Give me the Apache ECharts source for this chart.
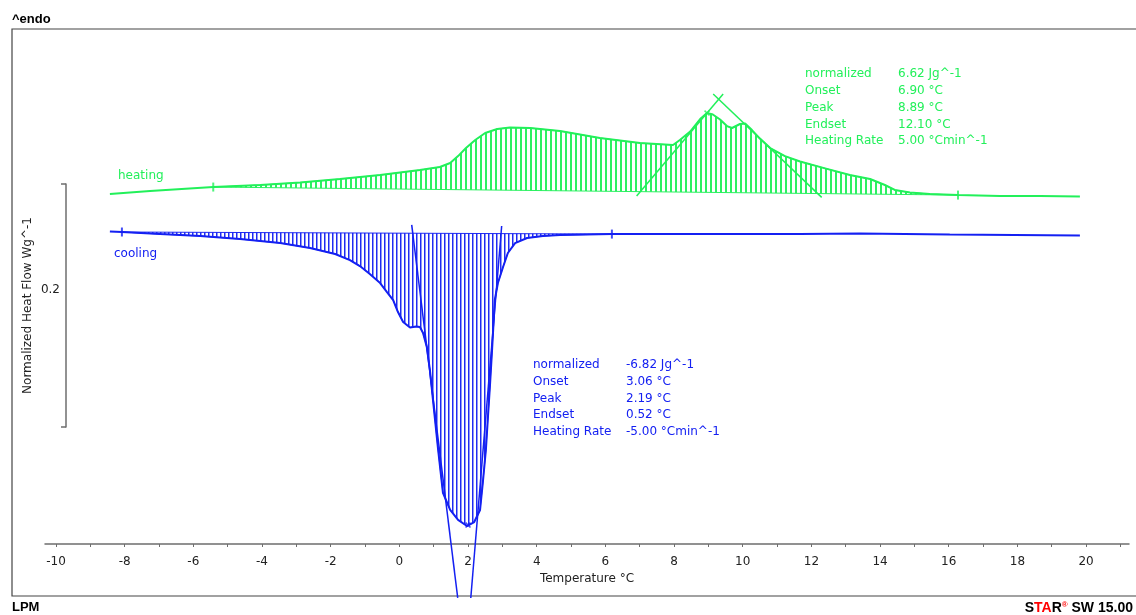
<!DOCTYPE html>
<html>
<head>
<meta charset="utf-8">
<title>DSC heating / cooling</title>
<script src="https://cdn.jsdelivr.net/npm/echarts@6/dist/echarts.min.js"></script>
<style>
  html, body { margin: 0; padding: 0; background: #fff; }
  #dsc-chart { width: 1136px; height: 615px; }
</style>
</head>
<body>
<div id="dsc-chart"></div>
<script>
// heating run (°C, W/g)
const heatT = [-8.43, -7.26, -5.42, -4.05, -2.89, -1.73, -0.56, 0.60, 1.18, 1.48, 1.71, 1.94, 2.21, 2.50, 2.85, 3.22, 3.81, 4.68, 5.84, 7.01, 7.97, 8.17, 8.47, 8.76, 8.96, 9.13, 9.34, 9.54, 9.69, 9.92, 10.07, 10.27, 10.50, 10.80, 11.23, 11.67, 12.40, 13.12, 13.71, 14.14, 14.43, 14.87, 15.45, 16.27, 17.49, 18.66, 19.82];
const heatHF = [0.2881, 0.2905, 0.2938, 0.2955, 0.2975, 0.3004, 0.3037, 0.3078, 0.3103, 0.3136, 0.3193, 0.3259, 0.3325, 0.3383, 0.3416, 0.3428, 0.3424, 0.3399, 0.3342, 0.3300, 0.3284, 0.3325, 0.3395, 0.3498, 0.3547, 0.3535, 0.3494, 0.3440, 0.3424, 0.3457, 0.3461, 0.3407, 0.3337, 0.3259, 0.3193, 0.3148, 0.3092, 0.3037, 0.3004, 0.2955, 0.2914, 0.2893, 0.2881, 0.2872, 0.2864, 0.2864, 0.2860];
const heatLimits = [-5.42, 16.27];
const heatTangents = [[[6.91, 0.2864], [9.43, 0.3704]], [[9.14, 0.3704], [12.30, 0.2853]]];
const heatPeak = [8.96, 0.3547];

// cooling run
const coolT = [-8.43, -8.08, -6.97, -5.80, -4.64, -3.47, -2.60, -1.87, -1.44, -1.15, -0.86, -0.56, -0.36, -0.18, -0.04, 0.11, 0.31, 0.49, 0.60, 0.69, 0.80, 0.89, 0.98, 1.13, 1.27, 1.48, 1.71, 1.97, 2.18, 2.35, 2.43, 2.52, 2.58, 2.64, 2.70, 2.78, 2.87, 3.02, 3.16, 3.37, 3.72, 4.18, 4.68, 6.19, 8.75, 11.67, 13.41, 16.03, 19.82];
const coolHF = [0.2572, 0.2568, 0.2551, 0.2535, 0.2510, 0.2477, 0.2436, 0.2387, 0.2337, 0.2288, 0.2222, 0.2148, 0.2074, 0.2008, 0.1909, 0.1827, 0.1782, 0.1790, 0.1786, 0.1737, 0.1621, 0.1432, 0.1185, 0.0774, 0.0420, 0.0280, 0.0198, 0.0148, 0.0181, 0.0280, 0.0502, 0.0774, 0.1045, 0.1309, 0.1597, 0.2008, 0.2148, 0.2280, 0.2395, 0.2477, 0.2519, 0.2535, 0.2543, 0.2551, 0.2551, 0.2551, 0.2556, 0.2547, 0.2539];
const coolLimits = [-8.08, 6.19];
const coolTangents = [[[0.36, 0.2626], [1.70, -0.0444]], [[2.98, 0.2617], [2.08, -0.0444]]];
const coolPeak = [2.0, 0.0156];

// axis ticks
const tickValues = [-10, -9, -8, -7, -6, -5, -4, -3, -2, -1, 0, 1, 2, 3, 4, 5, 6, 7, 8, 9, 10, 11, 12, 13, 14, 15, 16, 17, 18, 19, 20, 21];
const labelValues = [-10, -8, -6, -4, -2, 0, 2, 4, 6, 8, 10, 12, 14, 16, 18, 20];
const scaleBar = 0.2;

// evaluation results
const heatInfoLabels = ['normalized', 'Onset', 'Peak', 'Endset', 'Heating Rate'];
const heatInfoValues = ['6.62 Jg^-1', '6.90 °C', '8.89 °C', '12.10 °C', '5.00 °Cmin^-1'];
const coolInfoLabels = ['normalized', 'Onset', 'Peak', 'Endset', 'Heating Rate'];
const coolInfoValues = ['-6.82 Jg^-1', '3.06 °C', '2.19 °C', '0.52 °C', '-5.00 °Cmin^-1'];

const GREEN = '#22f05a';
const BLUE = '#1420f2';
const FONT = '"DejaVu Sans", Verdana, sans-serif';

document.addEventListener('DOMContentLoaded', function() {
    const chart = echarts.init(document.getElementById('dsc-chart'));

    const pairs = (xs, ys) => xs.map((x, i) => [x, ys[i]]);
    const heat = pairs(heatT, heatHF);
    const cool = pairs(coolT, coolHF);
    const segment = (pts, lim) => pts.filter(p => p[0] >= lim[0] && p[0] <= lim[1]);
    const limitPoints = (pts, lim) => pts.filter(p => lim.indexOf(p[0]) >= 0);

    // vertical hatching used for the integrated area
    function hatchFill(color, step, width) {
        const c = document.createElement('canvas');
        c.width = step;
        c.height = 2;
        const ctx = c.getContext('2d');
        ctx.fillStyle = color;
        ctx.fillRect(0, 0, width, 2);
        return { image: c, repeat: 'repeat' };
    }

    function hatchSeries(seg, color, fill) {
        return {
            type: 'custom',
            silent: true,
            data: [[0, 0]],
            renderItem: function(params, api) {
                return {
                    type: 'polygon',
                    shape: { points: seg.map(p => api.coord(p)) },
                    style: { fill: fill, stroke: color, lineWidth: 1, opacity: 0.95 }
                };
            },
            z: 2
        };
    }

    function lineSeries(data, color, width) {
        return {
            type: 'line',
            data: data,
            showSymbol: false,
            clip: false,
            silent: true,
            lineStyle: { color: color, width: width },
            z: 3
        };
    }

    function markSeries(data, color, symbol, size) {
        return {
            type: 'scatter',
            data: data,
            symbol: symbol,
            symbolSize: size,
            clip: false,
            silent: true,
            itemStyle: { color: color },
            z: 4
        };
    }

    const crossPath = 'path://M0 0.18L0.18 0L0.5 0.32L0.82 0L1 0.18L0.68 0.5L1 0.82L0.82 1L0.5 0.68L0.18 1L0 0.82L0.32 0.5Z';

    const series = [
        hatchSeries(segment(heat, heatLimits), GREEN, hatchFill(GREEN, 5, 2)),
        hatchSeries(segment(cool, coolLimits), BLUE, hatchFill(BLUE, 4, 1.5)),
        lineSeries(heat, GREEN, 2),
        lineSeries(cool, BLUE, 2),
        markSeries(limitPoints(heat, heatLimits), GREEN, 'rect', [2, 9]),
        markSeries(limitPoints(cool, coolLimits), BLUE, 'rect', [2, 9]),
        markSeries([heatPeak], GREEN, crossPath, 6),
        markSeries([coolPeak], BLUE, crossPath, 6)
    ];
    heatTangents.forEach(t => series.push(lineSeries(t, GREEN, 1.5)));
    coolTangents.forEach(t => series.push(lineSeries(t, BLUE, 1.5)));

    function infoText(x, y, lines, color) {
        return {
            type: 'text', x: x, y: y, silent: true,
            style: { text: lines.join('\n'), fill: color, font: '12px ' + FONT, lineHeight: 16.7 }
        };
    }

    const option = {
        backgroundColor: '#fff',
        animation: false,
        grid: [
            // plot area ends at the temperature axis line
            { left: 45, right: 7, top: 29, bottom: 71, containLabel: false, outerBoundsMode: 'none' },
            { left: 66, top: 184, width: 10, height: 243, containLabel: false, outerBoundsMode: 'none' }
        ],
        xAxis: [
            {
                type: 'value', gridIndex: 0, min: -10.32, max: 21.25,
                axisLine: { onZero: false, lineStyle: { color: '#6e6e6e', width: 1.5 } },
                axisTick: { customValues: tickValues, length: 3, lineStyle: { color: '#6e6e6e' } },
                axisLabel: { customValues: labelValues, color: '#222', fontSize: 12, fontFamily: FONT, margin: 12 },
                splitLine: { show: false },
                name: 'Temperature °C', nameLocation: 'middle', nameGap: 28,
                nameTextStyle: { color: '#222', fontSize: 12, fontFamily: FONT }
            },
            { type: 'value', gridIndex: 1, show: false }
        ],
        yAxis: [
            { type: 'value', gridIndex: 0, min: 0, max: 0.4239, show: false },
            {
                type: 'value', gridIndex: 1, min: 0, max: scaleBar,
                axisLine: { show: true, lineStyle: { color: '#6e6e6e', width: 1.5 } },
                axisTick: { show: true, customValues: [0, scaleBar], length: 5, lineStyle: { color: '#6e6e6e', width: 1.5 } },
                axisLabel: { customValues: [0.1128], formatter: () => String(scaleBar), color: '#222', fontSize: 12, fontFamily: FONT, margin: 6 },
                splitLine: { show: false },
                name: 'Normalized Heat Flow Wg^-1', nameLocation: 'middle', nameGap: 32,
                nameTextStyle: { color: '#222', fontSize: 12, fontFamily: FONT }
            }
        ],
        graphic: [
            { type: 'rect', silent: true, shape: { x: 12, y: 29, width: 1130, height: 567 },
              style: { fill: 'none', stroke: '#444', lineWidth: 1.2 } },
            { type: 'text', x: 12, y: 11.5, silent: true,
              style: { text: '^endo', fill: '#000', font: 'bold 13px "Liberation Sans", Arial, sans-serif', lineHeight: 15 } },
            { type: 'text', x: 12, y: 599.5, silent: true,
              style: { text: 'LPM', fill: '#000', font: 'bold 13px "Liberation Sans", Arial, sans-serif', lineHeight: 15 } },
            { type: 'text', x: 1133, y: 601, silent: true,
              style: {
                  text: '{b|S}{r|TA}{b|R}{s|®}{b| SW 15.00}', align: 'right',
                  rich: {
                      b: { fill: '#000', font: 'bold 14px "Liberation Sans", Arial, sans-serif' },
                      r: { fill: '#f00', font: 'bold 14px "Liberation Sans", Arial, sans-serif' },
                      s: { fill: '#f00', font: 'bold 8px "Liberation Sans", Arial, sans-serif', verticalAlign: 'top' }
                  }
              } },
            { type: 'text', x: 118, y: 168.7, silent: true,
              style: { text: 'heating', fill: GREEN, font: '12px ' + FONT, lineHeight: 14 } },
            { type: 'text', x: 114, y: 247.3, silent: true,
              style: { text: 'cooling', fill: BLUE, font: '12px ' + FONT, lineHeight: 14 } },
            infoText(805, 66, heatInfoLabels, GREEN),
            infoText(898, 66, heatInfoValues, GREEN),
            infoText(533, 356.7, coolInfoLabels, BLUE),
            infoText(626, 356.7, coolInfoValues, BLUE)
        ],
        series: series
    };

    chart.setOption(option);
    window.addEventListener('resize', () => {
        chart.resize();
    });
});
</script>
</body>
</html>
